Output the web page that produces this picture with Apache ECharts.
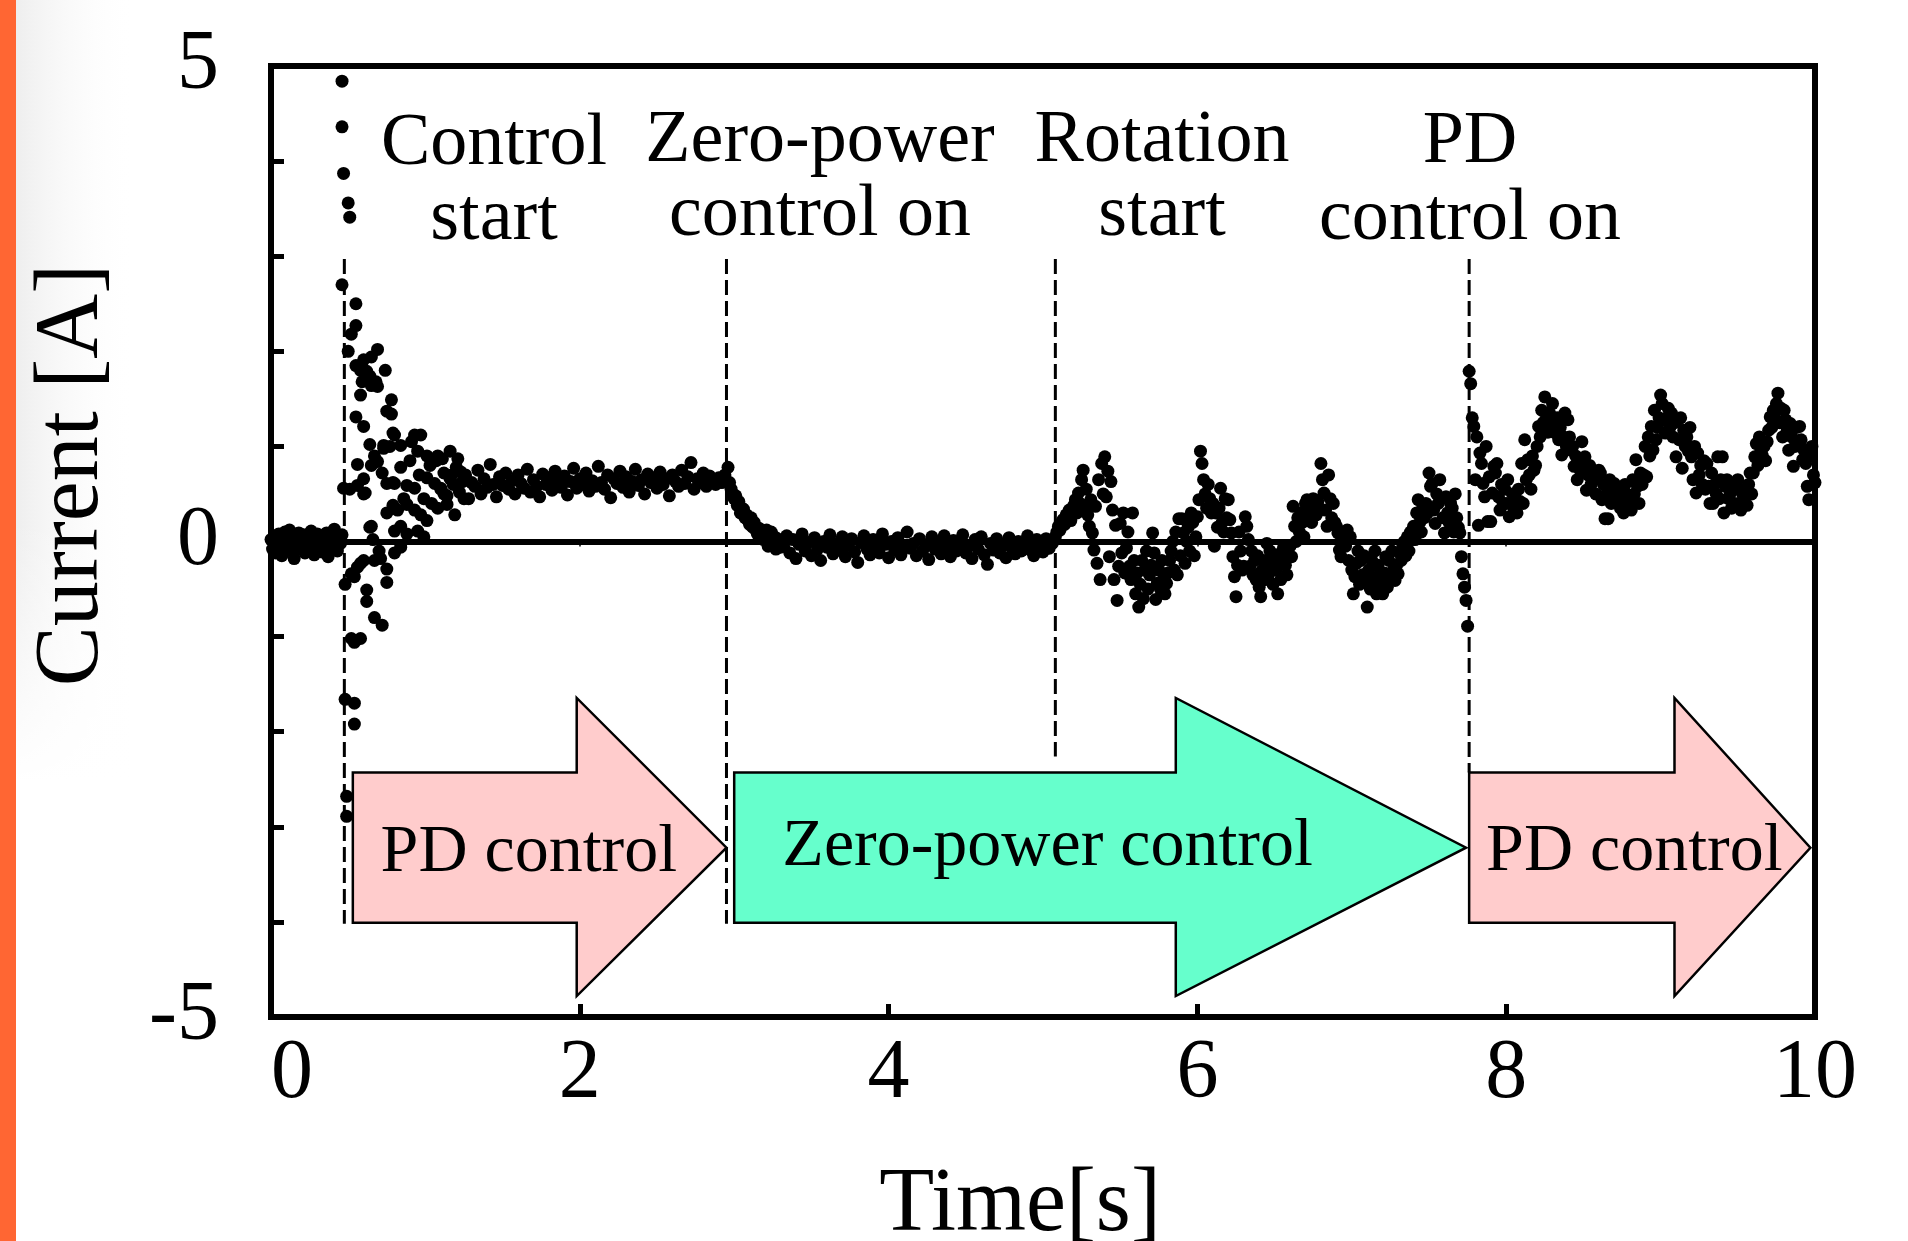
<!DOCTYPE html>
<html><head><meta charset="utf-8">
<script src="https://cdn.jsdelivr.net/npm/echarts@6/dist/echarts.min.js"></script>
<style>html,body{margin:0;padding:0;background:#fff;}#c{width:1908px;height:1241px;}</style>
</head><body><div id="c"></div>
<script>
// ---------------- DATA ----------------
const FONT = '"Liberation Serif", "Times New Roman", serif';
const xTicks = [0, 2, 4, 6, 8, 10];
const yTickLabels = [-5, 0, 5];

// Before control start: sampled every 0.01 s from t = 0.00
const preStart_t0 = 0.00, preStart_dt = 0.01;
const preStart = [0.02,-0.08,0.05,-0.12,0.0,0.08,-0.05,-0.15,0.03,0.10,
 -0.06,-0.02,0.12,-0.10,0.04,-0.18,0.06,-0.03,0.09,-0.08,
 0.01,0.07,-0.12,-0.04,0.05,-0.09,0.11,-0.01,-0.14,0.04,
 0.08,-0.06,0.0,-0.11,0.06,-0.03,0.09,-0.16,0.02,-0.07,
 0.05,0.13,-0.04,-0.10,0.03,-0.02,0.07];

// Transient right after control start: [time, current]
const startTransient = [
 [0.46,4.84],[0.46,4.36],[0.47,3.87],[0.50,3.56],[0.51,3.41],[0.46,2.70],[0.47,0.56],[0.48,-0.45],[0.49,-2.68],[0.49,-2.89],
 [0.48,-1.66],[0.50,2.00],[0.51,0.55],[0.52,2.18],[0.52,-1.02],[0.52,-0.34],[0.54,-1.06],[0.54,-1.92],[0.54,-1.70],[0.54,-0.37],
 [0.55,2.50],[0.55,2.27],[0.55,1.85],[0.55,1.31],[0.56,0.81],[0.56,0.59],[0.56,-0.27],[0.58,1.80],[0.58,1.54],[0.58,-1.02],
 [0.58,-0.23],[0.59,1.68],[0.60,1.91],[0.60,1.21],[0.60,0.66],[0.60,0.50],[0.60,-0.20],[0.61,0.51],[0.62,1.79],[0.62,-0.51],
 [0.62,-0.63],[0.64,1.74],[0.64,1.02],[0.64,0.15],[0.65,1.94],[0.65,1.64],[0.65,0.80],[0.65,0.16],[0.66,0.02],[0.67,0.90],
 [0.67,-0.20],[0.67,-0.80],[0.68,1.68],[0.69,2.02],[0.69,1.63],[0.69,0.84],[0.70,-0.10],[0.71,-0.18],[0.72,-0.88],[0.72,0.72],
 [0.73,1.01],[0.73,0.98],[0.74,1.80],[0.75,1.37],[0.75,0.61],[0.75,0.30],[0.75,-0.29],[0.75,-0.43],[0.77,1.00],[0.78,1.49],
 [0.78,1.34],[0.79,1.14],[0.79,0.62],[0.79,0.38],[0.80,1.12],[0.80,0.61],[0.80,0.11],[0.80,-0.12],[0.82,0.33],[0.84,1.01],
 [0.84,0.78],[0.84,0.16],[0.84,-0.06],[0.86,0.45],[0.88,0.59],[0.88,0.39],[0.88,0.08],[0.90,0.85],[0.91,1.05],[0.93,1.12],
 [0.93,0.56],[0.93,0.33],[0.95,0.95],[0.95,0.11],[0.96,0.70],[0.97,1.12],[0.97,0.28],[0.99,0.05],[0.99,0.45],[1.01,0.90],
 [1.01,0.67],[1.01,0.22],[1.03,0.80],[1.04,0.40],[1.06,0.61],[1.07,0.85],[1.08,0.90],[1.08,0.35],[1.10,0.56],[1.11,0.87],
 [1.12,0.50],[1.14,0.39],[1.16,0.95],[1.17,0.70],[1.19,0.28],[1.21,0.87],[1.23,0.73],[1.25,0.45]
];

// PD control steady state: sampled every 0.02 s from t = 1.10
const pdSteady_t0 = 1.10, pdSteady_dt = 0.02;
const pdSteady = [0.55,0.72,0.48,0.66,0.60,0.78,0.52,0.63,0.70,0.45,
 0.62,0.58,0.75,0.50,0.66,0.57,0.81,0.60,0.47,0.68,
 0.59,0.72,0.55,0.64,0.50,0.70,0.61,0.56,0.76,0.52,
 0.65,0.58,0.47,0.71,0.60,0.67,0.54,0.74,0.62,0.57,
 0.69,0.49,0.63,0.77,0.56,0.66,0.60,0.72,0.53,0.64,
 0.58,0.79,0.62,0.55,0.70,0.46,0.66,0.61,0.74,0.57,
 0.68,0.52,0.63,0.76,0.59,0.65,0.50,0.71,0.62,0.67,
 0.56,0.73,0.60,0.66,0.48,0.70,0.63,0.58,0.75,0.61,
 0.68,0.83,0.55,0.66,0.62,0.72,0.58,0.69,0.64,0.60,
 0.67,0.62,0.70];

// Zero-power control on: decay, sampled every 0.01 s from t = 2.96
const zpDecay_t0 = 2.96, zpDecay_dt = 0.01;
const zpDecay = [0.78,0.62,0.55,0.50,0.45,0.48,0.38,0.42,0.30,0.35,0.34,0.25,0.28,0.22,0.18,0.25,0.15,0.20,0.12,0.08,
 0.14,0.05,0.10,0.02,0.08,0.12,-0.05,0.04,0.10,-0.02,0.05,-0.08,0.03,0.0,-0.06];

// Zero-power steady state: sampled every 0.02 s from t = 3.32
const zpSteady_t0 = 3.32, zpSteady_dt = 0.02;
const zpSteady = [-0.05,0.06,-0.12,0.02,-0.18,-0.03,0.08,-0.10,-0.01,-0.15,
 0.04,-0.08,-0.20,0.0,-0.06,0.07,-0.13,-0.02,-0.09,0.05,
 -0.16,-0.04,0.03,-0.11,-0.22,-0.01,0.06,-0.08,-0.14,0.02,
 -0.06,-0.12,0.08,-0.03,-0.17,0.0,-0.09,0.04,-0.14,-0.05,
 0.10,-0.07,-0.02,-0.15,0.03,-0.10,-0.04,-0.19,0.05,-0.08,
 -0.01,-0.13,0.06,-0.06,-0.16,0.01,-0.10,-0.03,0.07,-0.12,
 -0.05,-0.18,0.02,-0.08,0.05,-0.14,-0.24,-0.02,-0.09,0.03,
 -0.12,-0.04,-0.17,0.04,-0.07,-0.13,0.0,-0.10,-0.05,0.06,
 -0.09,-0.15,0.02,-0.04,-0.11,0.03,-0.07,-0.02];

// Rotation under zero-power control: sampled every 0.01 s from t = 5.08
const rotation_t0 = 5.08, rotation_dt = 0.01;
const rotation = [0.05,0.10,
 0.16,0.12,0.20,0.23,0.18,0.28,0.25,0.33,0.22,0.30,
 0.38,0.44,0.30,0.51,0.40,0.65,0.75,0.37,0.55,0.28,
 0.16,0.44,0.09,-0.09,0.37,-0.23,0.65,-0.40,0.82,0.50,
 0.89,0.47,0.74,-0.16,0.63,0.33,-0.40,0.17,-0.62,-0.26,
 0.19,-0.12,0.30,-0.33,-0.07,0.10,-0.26,-0.40,0.30,-0.20,
 -0.55,-0.33,-0.69,-0.45,-0.20,-0.60,-0.30,-0.10,-0.50,-0.35,
 -0.25,0.09,-0.12,-0.61,-0.44,-0.30,-0.50,-0.20,-0.40,-0.55,
 -0.44,-0.33,-0.20,-0.10,0.00,-0.30,0.10,-0.35,0.24,-0.15,
 0.24,0.09,-0.23,0.00,0.15,-0.10,0.30,0.20,-0.15,0.05,
 0.26,0.44,0.95,0.82,0.65,0.50,0.35,0.60,0.45,0.30,
 0.40,-0.05,0.30,0.15,0.35,0.56,0.20,0.10,0.45,0.25,
 0.44,0.23,0.09,-0.16,-0.37,-0.58,-0.25,0.10,-0.10,-0.30,
 -0.26,0.26,0.16,0.02,-0.26,-0.10,-0.35,-0.20,-0.40,-0.15,
 -0.48,-0.58,-0.30,-0.20,-0.40,-0.02,-0.35,-0.10,-0.25,-0.45,
 -0.16,-0.30,-0.55,-0.20,-0.40,-0.10,-0.05,-0.25,-0.35,-0.15,
 -0.05,-0.16,0.37,0.16,0.00,0.25,0.10,0.30,0.20,0.05,
 0.40,0.44,0.30,0.35,0.20,0.45,0.38,0.28,0.42,0.33,
 0.82,0.65,0.51,0.33,0.16,0.70,0.45,0.25,0.40,0.20,
 0.16,0.09,-0.09,-0.16,0.10,0.00,-0.05,0.12,-0.20,0.05,
 -0.30,-0.55,-0.37,-0.23,-0.10,-0.45,-0.20,-0.35,-0.15,-0.40,
 -0.69,-0.30,-0.50,-0.20,-0.40,-0.10,-0.55,-0.25,-0.35,-0.45,
 -0.55,-0.33,-0.16,-0.48,-0.20,-0.40,-0.10,-0.30,-0.41,-0.25,
 -0.34,-0.12,-0.20,-0.05,0.00,-0.15,0.05,-0.10,0.10,0.02,
 0.16,0.02,0.30,0.44,0.20,0.10,0.35,0.25,0.40,0.30,
 0.72,0.58,0.61,0.33,0.19,0.50,0.40,0.65,0.45,0.25,
 0.09,0.47,0.30,0.20,0.40,0.35,0.10,0.50,0.25,0.15,
 0.09,-0.16,-0.34,-0.48,-0.62,-0.89];

// PD control on again: sampled every 0.01 s from t = 7.76
const pd2_t0 = 7.76, pd2_dt = 0.01;
const pd2 = [1.79,1.66,1.30,1.21,
 0.65,1.10,0.17,0.93,0.82,0.61,0.47,1.00,0.21,0.68,
 0.21,0.51,0.79,0.72,0.82,0.47,0.33,0.60,0.40,0.55,
 0.40,0.65,0.26,0.40,0.50,0.35,0.45,0.30,0.55,0.42,
 0.82,0.40,1.07,0.65,0.86,0.70,0.55,0.90,0.75,0.80,
 1.00,1.21,1.10,1.38,1.25,1.52,1.30,1.15,1.35,1.20,
 1.45,1.24,1.14,1.30,1.07,1.20,0.91,1.10,1.35,1.00,
 1.28,1.10,0.96,1.00,0.79,0.90,0.65,0.86,0.75,1.05,
 0.86,0.89,0.54,0.70,0.80,0.60,0.75,0.65,0.50,0.72,
 0.75,0.72,0.44,0.60,0.24,0.50,0.24,0.65,0.40,0.55,
 0.61,0.50,0.40,0.55,0.35,0.45,0.30,0.60,0.50,0.40,
 0.47,0.33,0.65,0.50,0.86,0.58,0.40,0.72,0.60,0.70,
 1.00,0.68,1.10,0.90,1.21,0.96,1.38,1.07,1.20,1.30,
 1.54,1.45,1.28,1.14,1.30,1.40,1.20,1.35,1.10,1.25,
 0.89,1.28,1.07,1.30,0.77,1.17,1.00,1.10,0.95,1.20,
 0.89,0.65,1.00,0.51,0.93,0.70,0.80,0.60,0.85,0.55,
 0.82,0.58,0.40,0.72,0.40,0.60,0.50,0.89,0.45,0.65,
 0.89,0.30,0.58,0.65,0.45,0.50,0.35,0.55,0.40,0.60,
 0.65,0.40,0.33,0.50,0.45,0.55,0.38,0.60,0.72,0.50,
 0.72,0.89,1.03,0.80,1.10,0.95,0.90,1.00,0.85,1.05,
 1.17,1.31,1.20,1.38,1.30,1.45,1.56,1.25,1.40,1.10,
 1.38,1.28,1.17,0.96,1.24,1.10,0.79,1.00,1.20,1.05,
 1.21,1.07,0.86,0.96,0.82,0.58,0.44,0.90,1.00,0.70,0.62];

// Event markers (dashed vertical lines)
const eventTimes = [0.475, 2.95, 5.08, 7.76];
const eventTop = [2.97, 2.97, 2.97, 2.97];
const eventBottom = [-4.02, -4.02, -2.26, -2.43];
const eventLabelsLine1 = ['Control', 'Zero-power', 'Rotation', 'PD'];
const eventLabelsLine2 = ['start', 'control on', 'start', 'control on'];

// Control-mode arrows (time extents and current levels)
const arrowBodyLeft = [0.53, 3.00, 7.76];
const arrowHeadStart = [1.98, 5.86, 9.09];
const arrowTip = [2.95, 7.74, 9.97];
const arrowBodyTop = -2.43, arrowBodyBottom = -4.01;
const arrowHeadTop = -1.645, arrowHeadBottom = -4.78;
const arrowLabels = ['PD control', 'Zero-power control', 'PD control'];
const arrowLabelX = [1.67, 5.03, 8.83];
const arrowLabelY = [-3.28, -3.21, -3.27];

// ---------------- BUILD ----------------
function sampled(t0, dt, vals) { return vals.map((v, i) => [Math.round((t0 + i * dt) * 1000) / 1000, v]); }
const points = [].concat(
  sampled(preStart_t0, preStart_dt, preStart),
  startTransient,
  sampled(pdSteady_t0, pdSteady_dt, pdSteady),
  sampled(zpDecay_t0, zpDecay_dt, zpDecay),
  sampled(zpSteady_t0, zpSteady_dt, zpSteady),
  sampled(rotation_t0, rotation_dt, rotation),
  sampled(pd2_t0, pd2_dt, pd2)
);
const arrowColors = ['#FFCCCC', '#66FFCC', '#FFCCCC'];
const eventData = eventTimes.map((t, i) => [t, eventTop[i], eventBottom[i]]);
const arrowData = arrowBodyLeft.map((l, i) => [l, arrowHeadStart[i], arrowTip[i], arrowLabelX[i], arrowLabelY[i], i]);

const chart = echarts.init(document.getElementById('c'), null, { renderer: 'canvas', width: 1908, height: 1241 });

const annoX = [494, 820, 1162, 1470];
const annoY1 = [145, 142, 142, 143];
const annoY2 = [220, 216, 216, 220];
const txt = (s, size) => ({ text: s, fontSize: size, fontFamily: FONT, fill: '#000', align: 'center', verticalAlign: 'middle', textAlign: 'center', textVerticalAlign: 'middle' });
const graphics = [
  { type: 'rect', silent: true, z: -10, shape: { x: 0, y: 0, width: 16, height: 1241 }, style: { fill: '#FF6633' } },
  { type: 'rect', silent: true, z: -10, shape: { x: 16, y: 0, width: 120, height: 780 },
    style: { fill: new echarts.graphic.LinearGradient(0, 0, 1, 0, [{ offset: 0, color: '#eeeeee' }, { offset: 1, color: 'rgba(255,255,255,0)' }]) } },
  { type: 'rect', silent: true, z: -9, shape: { x: 16, y: 520, width: 120, height: 262 },
    style: { fill: new echarts.graphic.LinearGradient(0, 0, 0, 1, [{ offset: 0, color: 'rgba(255,255,255,0)' }, { offset: 1, color: '#ffffff' }]) } },
  { type: 'text', silent: true, z: 10, x: 73, y: 475, rotation: Math.PI / 2, style: txt('Current [A]', 90) },
  { type: 'text', silent: true, z: 10, x: 1020, y: 1206, style: txt('Time[s]', 90) }
];
eventLabelsLine1.forEach((s, i) => {
  graphics.push({ type: 'text', silent: true, z: 10, x: annoX[i], y: annoY1[i], style: txt(s, 74) });
  graphics.push({ type: 'text', silent: true, z: 10, x: annoX[i], y: annoY2[i], style: txt(eventLabelsLine2[i], 74) });
});

const option = {
  animation: false,
  backgroundColor: '#ffffff',
  grid: { left: 271, top: 66, width: 1544, height: 951, show: true, borderColor: '#000', borderWidth: 6, backgroundColor: 'transparent' },
  xAxis: [
    { type: 'value', min: 0, max: 10, interval: 2, position: 'bottom',
      axisLine: { show: true, onZero: false, lineStyle: { color: '#000', width: 6 } },
      axisTick: { show: true, inside: true, length: 13, lineStyle: { color: '#000', width: 5 } },
      axisLabel: { show: true, fontSize: 84, fontFamily: FONT, color: '#000', margin: 16, alignMinLabel: 'left',
        formatter: v => xTicks.indexOf(v) >= 0 ? String(v) : '' },
      splitLine: { show: false } },
    { type: 'value', min: 0, max: 10, interval: 2, position: 'bottom',
      axisLine: { show: true, onZero: true, lineStyle: { color: '#000', width: 6 } },
      axisTick: { show: true, inside: false, length: 5, lineStyle: { color: '#000', width: 1.5 } },
      axisLabel: { show: false }, splitLine: { show: false } }
  ],
  yAxis: { type: 'value', min: -5, max: 5, interval: 1,
    axisLine: { show: true, onZero: false, lineStyle: { color: '#000', width: 6 } },
    axisTick: { show: true, inside: true, length: 13, lineStyle: { color: '#000', width: 5 } },
    axisLabel: { show: true, fontSize: 84, fontFamily: FONT, color: '#000', margin: 52,
      formatter: v => yTickLabels.indexOf(v) >= 0 ? String(v) : '' },
    splitLine: { show: false } },
  graphic: graphics,
  series: [
    { type: 'custom', name: 'events', z: 2, silent: true, data: eventData,
      renderItem: (params, api) => {
        const p1 = api.coord([api.value(0), api.value(1)]);
        const p2 = api.coord([api.value(0), api.value(2)]);
        return { type: 'line', shape: { x1: p1[0], y1: p1[1], x2: p2[0], y2: p2[1] },
          style: { stroke: '#000', lineWidth: 3, lineDash: [15, 6] } };
      } },
    { type: 'custom', name: 'arrows', z: 3, silent: true, data: arrowData,
      renderItem: (params, api) => {
        const L = api.value(0), H = api.value(1), T = api.value(2);
        const mid = (arrowBodyTop + arrowBodyBottom) / 2;
        const pts = [[L, arrowBodyTop], [H, arrowBodyTop], [H, arrowHeadTop], [T, mid], [H, arrowHeadBottom], [H, arrowBodyBottom], [L, arrowBodyBottom]].map(p => api.coord(p));
        const lp = api.coord([api.value(3), api.value(4)]);
        const idx = api.value(5);
        return { type: 'group', children: [
          { type: 'polygon', shape: { points: pts }, style: { fill: arrowColors[idx], stroke: '#000', lineWidth: 2.5, lineJoin: 'miter' } },
          { type: 'text', x: lp[0], y: lp[1], style: { text: arrowLabels[idx], fontSize: 68, fontFamily: FONT, fill: '#000', align: 'center', verticalAlign: 'middle' } }
        ] };
      } },
    { type: 'scatter', name: 'Current', z: 4, silent: true, data: points, symbol: 'circle', symbolSize: 13,
      itemStyle: { color: '#000', opacity: 1 }, clip: false }
  ]
};
chart.setOption(option);
</script></body></html>
